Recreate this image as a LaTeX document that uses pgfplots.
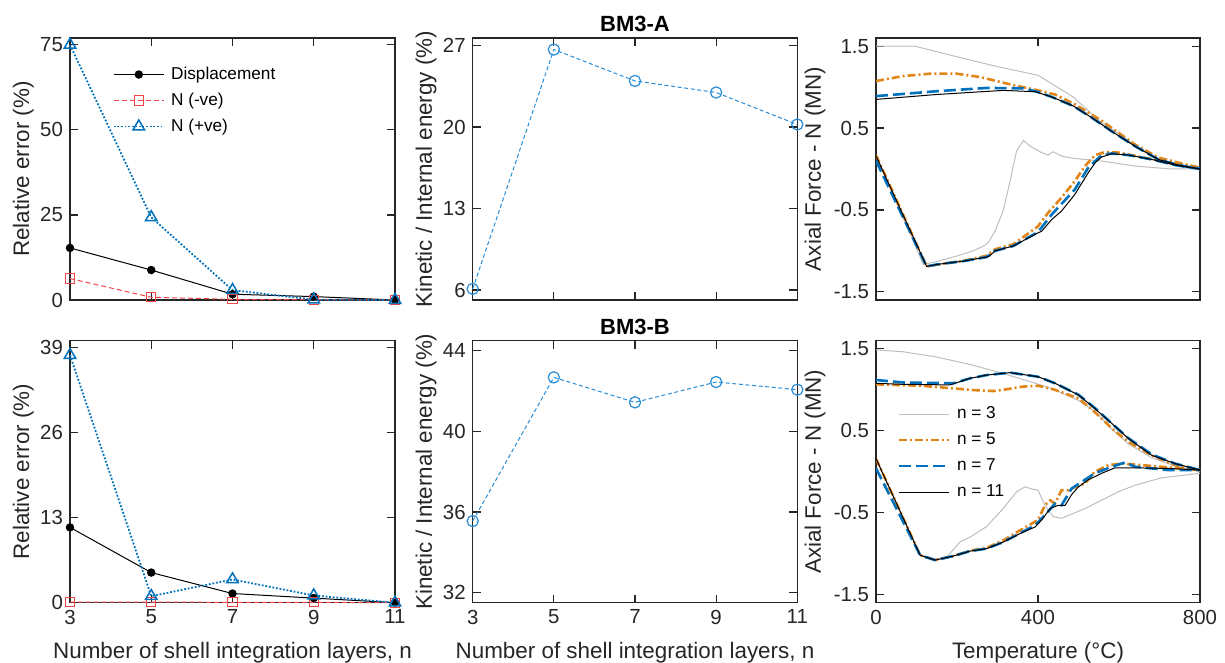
\documentclass[border=0pt]{standalone}
\usepackage{pgfplots}
\pgfplotsset{compat=1.18}
\usepackage{fontspec}
\setmainfont{Liberation Sans}
\definecolor{axgray}{RGB}{38,38,38}
\definecolor{mblue}{RGB}{0,114,189}
\definecolor{lblue}{RGB}{40,140,215}
\definecolor{mred}{RGB}{240,70,70}
\definecolor{morange}{RGB}{226,133,24}
\definecolor{lgray}{RGB}{190,190,190}
\newcommand{\labfont}{\fontsize{11.2}{13}\selectfont}
\pgfplotsset{
  base/.style={
    scale only axis, anchor=south west, height=131pt,
    axis line style={axgray, line width=0.6pt},
    every tick/.style={axgray, line width=0.6pt},
    tick align=inside, major tick length=4pt,
    every tick label/.style={font=\fontsize{10.2}{12}\selectfont, text=axgray},
    /pgf/number format/assume math mode=true,
    every axis y label/.style={at={(axis description cs:-0.126,0.5)}, rotate=90, anchor=base, font=\labfont, text=axgray},
    every axis x label/.style={at={(axis description cs:0.5,-0.214)}, anchor=base, font=\labfont, text=axgray},
    every axis title/.style={at={(axis description cs:0.5,1.024)}, anchor=base, font=\bfseries\fontsize{11}{13}\selectfont},
    legend style={draw=none, fill=none, inner sep=0pt, outer sep=0pt, font=\fontsize{8.6}{10}\selectfont, text=black, row sep=4.5pt, column sep=3.2pt, anchor=north west, legend cell align=left, nodes={inner sep=0pt, text height=6.5pt, text depth=2pt}},
    legend image code/.code={\draw[mark repeat=2,mark phase=2] plot coordinates {(0pt,0pt) (12.5pt,0pt) (25pt,0pt)};},
  },
  nplot/.style={xmin=3, xmax=11, xtick={3,5,7,9,11}, clip=false},
  tplot/.style={xmin=0, xmax=800, xtick={0,400,800}, ymin=-1.6, ymax=1.6,
    ytick={-1.5,-0.5,0.5,1.5}, yticklabels={-1.5,-0.5,0.5,1.5},
    ylabel={Axial Force - N (MN)},
    every axis y label/.style={at={(axis description cs:-0.170,0.5)}, rotate=90, anchor=base, font=\labfont, text=axgray}},
  dispst/.style={black, line width=0.5pt, mark=*, mark size=1.85pt, mark options={solid, fill=black}},
  negst/.style={mred, line width=0.5pt, dash pattern=on 2.5pt off 1.5pt, mark=square, mark size=2.3pt, mark options={solid, fill=white}},
  posst/.style={mblue, line width=0.9pt, dash pattern=on 0.9pt off 0.9pt, mark=triangle, mark size=3.3pt, mark options={solid, fill=white, line width=0.75pt}},
  kest/.style={lblue, line width=0.5pt, dash pattern=on 2pt off 1.3pt, mark=o, mark size=2.8pt, mark options={solid, fill=white, line width=0.6pt}},
  n3/.style={lgray, line width=0.5pt},
  n5/.style={morange, line width=1.3pt, dash pattern=on 4pt off 1.5pt on 1pt off 1.5pt},
  n7/.style={mblue, line width=1.3pt, dash pattern=on 6pt off 2.5pt},
  n11/.style={black, line width=0.5pt},
}
\begin{document}
\begin{tikzpicture}
\useasboundingbox (0,0) rectangle (612.5pt,331.5pt);
% ---------- top left
\begin{axis}[base, nplot, at={(35pt,181.5pt)}, width=162.5pt, ymin=0, ymax=77,
  ytick={0,25,50,75}, xticklabels={}, ylabel={Relative error (\%)},
  legend style={at={(0.132,0.893)}}]
\addplot[dispst] coordinates {(3,15.3) (5,8.8) (7,1.7) (9,1.0) (11,0)};
\addlegendentry{Displacement}
\addplot[negst] coordinates {(3,6.3) (5,0.8) (7,0.2) (9,0.1) (11,0)};
\addlegendentry{N (-ve)}
\addplot[posst] coordinates {(3,75) (5,24.3) (7,2.9) (9,0.1) (11,0)};
\addlegendentry{N (+ve)}
\end{axis}
% ---------- bottom left
\begin{axis}[base, nplot, at={(35pt,30.15pt)}, width=162.5pt, ymin=0, ymax=40,
  ytick={0,13,26,39}, ylabel={Relative error (\%)},
  xlabel={Number of shell integration layers, n}]
\addplot[dispst] coordinates {(3,11.5) (5,4.6) (7,1.4) (9,0.7) (11,0)};
\addplot[negst] coordinates {(3,0.1) (5,0.1) (7,0.05) (9,0.05) (11,0)};
\addplot[posst] coordinates {(3,37.8) (5,1.0) (7,3.55) (9,1.1) (11,0)};
\end{axis}
% ---------- top middle
\begin{axis}[base, nplot, at={(236.35pt,181.5pt)}, width=162.3pt, ymin=5.15, ymax=27.65,
  ytick={6,13,20,27}, xticklabels={}, ylabel={Kinetic / Internal energy (\%)}, title={BM3-A}]
\addplot[kest] coordinates {(3,6.1) (5,26.66) (7,23.96) (9,22.97) (11,20.22)};
\end{axis}
% ---------- bottom middle
\begin{axis}[base, nplot, at={(236.35pt,30.15pt)}, width=162.3pt, ymin=31.5, ymax=44.5,
  ytick={32,36,40,44}, ylabel={Kinetic / Internal energy (\%)}, title={BM3-B},
  xlabel={Number of shell integration layers, n}]
\addplot[kest] coordinates {(3,35.55) (5,42.68) (7,41.44) (9,42.45) (11,42.07)};
\end{axis}
% ---------- top right
\begin{axis}[base, tplot, at={(438pt,181.5pt)}, width=162pt, xticklabels={}]
\addplot[n3] coordinates {(0,1.5) (96,1.5) (200,1.37) (300,1.25) (400,1.145) (487,0.88) (553,0.58) (600,0.43) (650,0.25) (700,0.11) (750,0.05) (800,0.0)};
\addplot[n3] coordinates {(0,0.17) (117,-1.166) (150,-1.13) (199,-1.064) (240,-1.0) (265,-0.942) (277,-0.90) (294,-0.76) (314,-0.51) (331,-0.15) (347,0.22) (364,0.35) (380,0.28) (409,0.20) (425,0.17) (437,0.21) (458,0.158) (487,0.13) (557,0.097) (639,0.036) (722,0.003) (800,0.0)};
\addplot[n5] coordinates {(0,1.074) (67,1.135) (133,1.164) (199,1.164) (257,1.123) (331,1.034) (400,0.96) (442,0.91) (491,0.79) (557,0.59) (639,0.30) (697,0.14) (754,0.068) (800,0.015)};
\addplot[n5] coordinates {(0,0.17) (125,-1.19) (150,-1.17) (216,-1.12) (273,-1.06) (294,-0.98) (339,-0.92) (400,-0.70) (425,-0.535) (458,-0.35) (491,-0.147) (516,0.036) (541,0.17) (566,0.207) (600,0.2) (681,0.12) (738,0.07) (800,0.015)};
\addplot[n7] coordinates {(0,0.89) (150,0.95) (273,0.99) (364,0.985) (400,0.94) (434,0.88) (487,0.77) (533,0.626) (582,0.46) (639,0.28) (697,0.117) (746,0.048) (800,0.0)};
\addplot[n7] coordinates {(0,0.10) (125,-1.19) (150,-1.166) (216,-1.125) (273,-1.076) (294,-1.0) (339,-0.94) (400,-0.77) (434,-0.555) (491,-0.25) (524,0.015) (557,0.17) (582,0.19) (623,0.17) (681,0.117) (738,0.048) (800,0.0)};
\addplot[n11] coordinates {(0,0.85) (150,0.91) (314,0.96) (393,0.944) (434,0.88) (487,0.77) (533,0.626) (582,0.46) (639,0.28) (697,0.117) (746,0.048) (800,0.0)};
\addplot[n11] coordinates {(0,0.16) (125,-1.19) (150,-1.166) (216,-1.125) (273,-1.076) (281,-1.06) (294,-1.0) (339,-0.94) (400,-0.78) (409,-0.76) (434,-0.616) (458,-0.514) (491,-0.31) (524,-0.046) (541,0.076) (557,0.146) (582,0.186) (623,0.17) (681,0.117) (738,0.048) (800,0.0)};
\end{axis}
% ---------- bottom right
\begin{axis}[base, tplot, at={(438pt,30.15pt)}, width=162pt, xlabel={Temperature (°C)},
  legend style={at={(0.068,0.752)}},
  legend image code/.code={\draw (0pt,0pt) -- (25pt,0pt);}]
\addplot[n3] coordinates {(0,1.487) (67,1.465) (150,1.40) (232,1.31) (314,1.2) (400,1.07) (442,1.0) (500,0.87) (540,0.74) (582,0.52) (623,0.34) (681,0.17) (738,0.07) (800,0.0)};
\addlegendentry{n = 3}
\addplot[n3, forget plot] coordinates {(0,0.16) (109,-1.02) (146,-1.07) (175,-1.04) (207,-0.86) (232,-0.80) (273,-0.67) (314,-0.45) (347,-0.246) (368,-0.185) (384,-0.21) (400,-0.226) (417,-0.41) (438,-0.55) (458,-0.57) (516,-0.45) (598,-0.246) (640,-0.164) (705,-0.075) (800,-0.02)};
\addplot[n5] coordinates {(0,1.067) (109,1.05) (191,1.018) (240,0.997) (290,0.985) (314,1.0) (364,1.04) (400,1.05) (442,1.0) (500,0.895) (540,0.73) (582,0.53) (623,0.365) (681,0.2) (738,0.08) (800,0.02)};
\addlegendentry{n = 5}
\addplot[n5, forget plot] coordinates {(0,0.16) (109,-1.02) (146,-1.08) (191,-1.03) (232,-0.965) (273,-0.93) (314,-0.84) (356,-0.715) (400,-0.59) (417,-0.41) (430,-0.35) (442,-0.39) (458,-0.226) (475,-0.226) (500,-0.17) (516,-0.144) (540,0.0) (574,0.08) (607,0.1) (681,0.07) (800,0.02)};
\addplot[n7] coordinates {(0,1.12) (67,1.09) (191,1.08) (232,1.14) (273,1.18) (331,1.21) (400,1.16) (442,1.08) (500,0.94) (540,0.78) (582,0.59) (623,0.41) (681,0.21) (738,0.1) (800,0.02)};
\addlegendentry{n = 7}
\addplot[n7, forget plot] coordinates {(0,0.04) (109,-1.02) (146,-1.08) (191,-1.03) (232,-0.97) (273,-0.94) (314,-0.86) (356,-0.75) (393,-0.654) (417,-0.53) (442,-0.39) (458,-0.41) (483,-0.205) (508,-0.124) (540,-0.02) (582,0.06) (615,0.113) (640,0.06) (722,0.02) (800,0.02)};
\addplot[n11] coordinates {(0,1.079) (67,1.067) (183,1.06) (232,1.14) (273,1.18) (331,1.21) (400,1.16) (442,1.08) (500,0.936) (540,0.773) (582,0.59) (623,0.406) (681,0.2) (738,0.1) (800,0.019)};
\addlegendentry{n = 11}
\addplot[n11, forget plot] coordinates {(0,0.16) (109,-1.02) (146,-1.08) (191,-1.03) (232,-0.97) (273,-0.94) (314,-0.86) (356,-0.755) (393,-0.674) (409,-0.59) (430,-0.45) (450,-0.41) (467,-0.41) (483,-0.28) (500,-0.185) (524,-0.10) (557,-0.02) (590,0.047) (640,0.047) (722,0.04) (800,0.02)};
\end{axis}
\end{tikzpicture}
\end{document}
